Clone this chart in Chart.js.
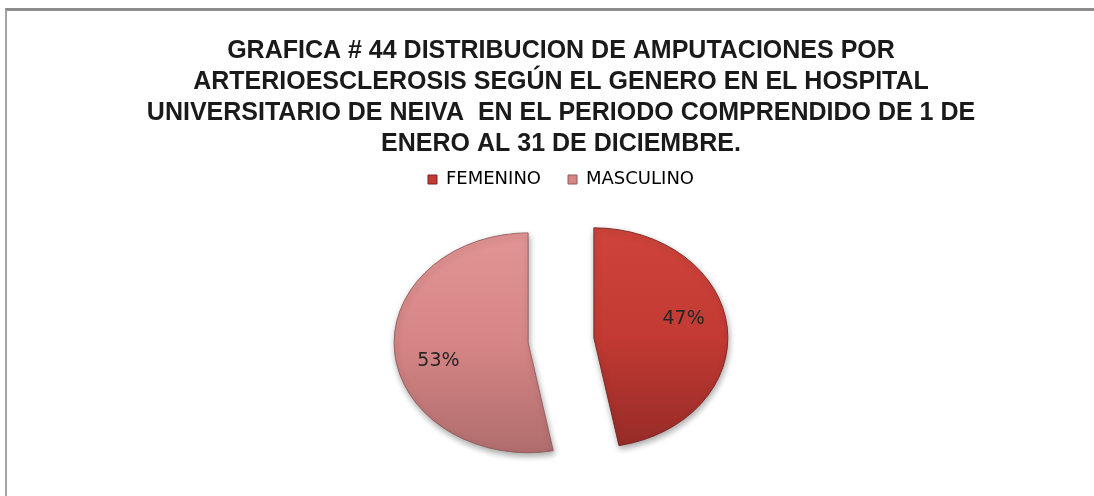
<!DOCTYPE html>
<html lang="es">
<head>
<meta charset="utf-8">
<title>Amputaciones por arterioesclerosis según el género</title>
<script src="https://cdn.jsdelivr.net/npm/chart.js@4.4.1/dist/chart.umd.min.js"></script>
<style>
    html, body { margin: 0; padding: 0; background: #fff; }
    body { width: 1094px; height: 496px; position: relative; overflow: hidden; }
    /* marco gris de la gráfica */
    #marco {
        position: absolute; left: 5px; top: 8px; width: 1200px; height: 600px;
        border-top: 3px solid #8c8c8c; border-left: 2px solid #a3a3a3;
    }
    #grafica { position: absolute; left: 0; top: 0; }
</style>
</head>
<body>
<div id="marco"></div>
<canvas id="grafica" width="1094" height="496"></canvas>
<script>
// Datos de la gráfica
const generos = ['FEMENINO', 'MASCULINO'];
const porcentajes = [47, 53];
const titulo = [
    'GRAFICA # 44 DISTRIBUCION DE AMPUTACIONES POR',
    'ARTERIOESCLEROSIS SEGÚN EL GENERO EN EL HOSPITAL',
    'UNIVERSITARIO DE NEIVA  EN EL PERIODO COMPRENDIDO DE 1 DE',
    'ENERO AL 31 DE DICIEMBRE.'
];

// Colores de cada porción
const colores = ['#c23a33', '#d68585'];
const coloresClaros = ['#cf443c', '#e29494'];
const coloresOscuros = ['#962b27', '#b06d6d'];
const bordes = ['#7a2622', '#8f5c5c'];

const RADIO = 134;
const ACHATADO = 0.82;   // alto / ancho de la torta
const SEPARACION = 33;   // desplazamiento de cada porción

// Degradado vertical, más oscuro abajo
function sombreado(c) {
    const chart = c.chart;
    const area = chart.chartArea;
    const i = c.dataIndex;
    if (!area) return colores[i];
    const cy = (area.top + area.bottom) / 2;
    const g = chart.ctx.createLinearGradient(0, cy - RADIO, 0, cy + RADIO);
    g.addColorStop(0, coloresClaros[i]);
    g.addColorStop(0.5, colores[i]);
    g.addColorStop(1, coloresOscuros[i]);
    return g;
}

// Aplana la torta, separa las porciones y escribe los porcentajes
const tortaPlugin = {
    id: 'torta',
    beforeDatasetDraw(chart, args) {
        const ctx = chart.ctx;
        const cy = (chart.chartArea.top + chart.chartArea.bottom) / 2;
        ctx.save();
        ctx.translate(0, cy);
        ctx.scale(1, ACHATADO);
        ctx.translate(0, -cy);
        ctx.shadowColor = 'rgba(0, 0, 0, 0.35)';
        ctx.shadowBlur = 6;
        ctx.shadowOffsetX = 1;
        ctx.shadowOffsetY = 3;
        args.meta.data.forEach(arc => {
            const mitad = (arc.startAngle + arc.endAngle) / 2;
            ctx.save();
            ctx.translate(Math.cos(mitad) * SEPARACION, Math.sin(mitad) * SEPARACION);
            arc.draw(ctx);
            ctx.restore();
        });
        ctx.restore();
        return false;
    },
    afterDatasetsDraw(chart) {
        const ctx = chart.ctx;
        const meta = chart.getDatasetMeta(0);
        ctx.save();
        ctx.font = '19px "DejaVu Sans"';
        ctx.fillStyle = '#262626';
        ctx.textAlign = 'center';
        ctx.textBaseline = 'middle';
        meta.data.forEach((arc, i) => {
            const p = arc.getProps(['x', 'y', 'startAngle', 'endAngle', 'outerRadius'], true);
            const mitad = (p.startAngle + p.endAngle) / 2;
            const giro = mitad - 0.15;
            const r = p.outerRadius * 0.69;
            const x = p.x + Math.cos(mitad) * SEPARACION + Math.cos(giro) * r;
            const y = p.y + (Math.sin(mitad) * SEPARACION + Math.sin(giro) * r) * ACHATADO;
            ctx.fillText(porcentajes[i] + '%', x, y);
        });
        ctx.restore();
    }
};

const ctx = document.getElementById('grafica').getContext('2d');
const grafica = new Chart(ctx, {
    type: 'pie',
    data: {
        labels: generos,
        datasets: [{
            data: porcentajes,
            backgroundColor: sombreado,
            borderColor: bordes,
            borderWidth: 1
        }]
    },
    options: {
        responsive: false,
        devicePixelRatio: 1,
        animation: false,
        events: [],
        radius: RADIO,
        layout: {
            padding: { left: 28, bottom: 14 }
        },
        plugins: {
            title: {
                display: true,
                text: titulo,
                color: '#1a1a1a',
                font: { family: '"Liberation Sans", Arial, sans-serif', size: 25, weight: 'bold', lineHeight: 1.24 },
                padding: { top: 36, bottom: -16.5 }
            },
            legend: {
                position: 'top',
                labels: {
                    color: '#404040',
                    font: { family: '"DejaVu Sans", sans-serif', size: 18 },
                    boxWidth: 9,
                    boxHeight: 9,
                    padding: 27,
                    generateLabels: () => generos.map((g, i) => ({
                        text: g,
                        fillStyle: colores[i],
                        strokeStyle: bordes[i],
                        lineWidth: 1,
                        hidden: false,
                        index: i
                    }))
                }
            },
            tooltip: { enabled: false }
        }
    },
    plugins: [tortaPlugin]
});
</script>
</body>
</html>
